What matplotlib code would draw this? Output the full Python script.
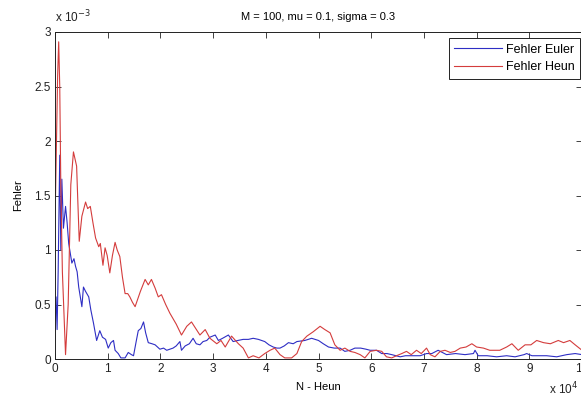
import numpy as np
import matplotlib
matplotlib.use("Agg")
import matplotlib.pyplot as plt
from matplotlib.ticker import FuncFormatter

# values: N in units of 1e4, error in units of 1e-3
heun_n = [0.01, 0.05, 0.07, 0.09, 0.11, 0.14, 0.20, 0.25, 0.30, 0.35, 0.41, 0.43,
          0.46, 0.51, 0.58, 0.62, 0.67, 0.72, 0.77, 0.83, 0.86, 0.91, 0.95, 0.99,
          1.04, 1.09, 1.14, 1.18, 1.23, 1.28, 1.33, 1.38, 1.42, 1.47, 1.52, 1.57,
          1.62, 1.71, 1.77, 1.83, 1.90, 1.96, 2.02, 2.10, 2.18, 2.30, 2.40, 2.50,
          2.59, 2.75, 2.85, 2.94, 3.07, 3.15, 3.23, 3.35, 3.48, 3.57, 3.67, 3.76,
          3.87, 3.98, 4.08, 4.17, 4.27, 4.36, 4.49, 4.59, 4.68, 4.78, 4.90, 5.03,
          5.12, 5.22, 5.31, 5.41, 5.50, 5.60, 5.69, 5.79, 5.88, 5.98, 6.10, 6.20,
          6.29, 6.39, 6.48, 6.58, 6.67, 6.76, 6.86, 6.95, 7.05, 7.12, 7.21, 7.31,
          7.40, 7.50, 7.59, 7.69, 7.80, 7.91, 8.00, 8.13, 8.25, 8.44, 8.57, 8.67,
          8.79, 8.92, 9.03, 9.14, 9.27, 9.40, 9.55, 9.65, 9.77, 9.87, 10.0]
heun_err = [1.50, 2.60, 2.91, 2.50, 1.60, 0.80, 0.04, 0.50, 1.60, 1.90, 1.77, 1.49,
            1.08, 1.31, 1.44, 1.38, 1.40, 1.25, 1.11, 1.03, 1.06, 0.86, 1.02, 0.95,
            0.79, 0.95, 1.07, 1.00, 0.94, 0.75, 0.60, 0.60, 0.57, 0.52, 0.48, 0.55,
            0.62, 0.73, 0.68, 0.73, 0.65, 0.57, 0.59, 0.50, 0.42, 0.32, 0.22, 0.30,
            0.34, 0.22, 0.27, 0.19, 0.14, 0.17, 0.11, 0.21, 0.14, 0.10, 0.01, 0.03,
            0.01, 0.05, 0.08, 0.10, 0.04, 0.01, 0.01, 0.05, 0.16, 0.21, 0.25, 0.30,
            0.27, 0.24, 0.13, 0.08, 0.10, 0.07, 0.06, 0.04, 0.01, 0.07, 0.08, 0.07,
            0.02, 0.01, 0.03, 0.05, 0.07, 0.04, 0.08, 0.05, 0.10, 0.04, 0.02, 0.07,
            0.08, 0.06, 0.07, 0.10, 0.11, 0.14, 0.11, 0.10, 0.08, 0.08, 0.11, 0.14,
            0.08, 0.13, 0.13, 0.17, 0.15, 0.14, 0.17, 0.15, 0.17, 0.13, 0.08]

euler_n = [0.00, 0.02, 0.04, 0.06, 0.09, 0.11, 0.13, 0.16, 0.20, 0.23, 0.26, 0.32,
           0.36, 0.39, 0.42, 0.45, 0.51, 0.54, 0.58, 0.64, 0.68, 0.73, 0.79, 0.85,
           0.90, 0.96, 1.01, 1.06, 1.11, 1.14, 1.20, 1.25, 1.33, 1.39, 1.45, 1.49,
           1.54, 1.58, 1.63, 1.68, 1.72, 1.77, 1.84, 1.90, 1.99, 2.06, 2.12, 2.18,
           2.24, 2.30, 2.37, 2.40, 2.47, 2.55, 2.62, 2.68, 2.75, 2.81, 2.88, 2.94,
           3.04, 3.10, 3.18, 3.29, 3.38, 3.47, 3.57, 3.67, 3.76, 3.86, 3.98, 4.06,
           4.14, 4.21, 4.27, 4.35, 4.43, 4.52, 4.59, 4.74, 4.87, 5.00, 5.09, 5.19,
           5.30, 5.41, 5.50, 5.60, 5.69, 5.80, 5.90, 5.98, 6.10, 6.20, 6.30, 6.39,
           6.55, 6.65, 6.77, 6.93, 7.05, 7.15, 7.27, 7.35, 7.43, 7.60, 7.78, 7.94,
           7.97, 8.03, 8.20, 8.38, 8.57, 8.73, 8.90, 8.95, 9.05, 9.14, 9.33, 9.52,
           9.71, 9.87, 10.0]
euler_err = [0.35, 0.57, 0.27, 0.80, 1.87, 1.00, 1.65, 1.20, 1.40, 1.25, 1.06, 0.88,
             0.92, 0.85, 0.80, 0.66, 0.48, 0.66, 0.62, 0.57, 0.45, 0.33, 0.17, 0.26,
             0.20, 0.18, 0.10, 0.15, 0.17, 0.08, 0.05, 0.01, 0.01, 0.06, 0.04, 0.03,
             0.16, 0.26, 0.28, 0.34, 0.24, 0.15, 0.14, 0.13, 0.09, 0.10, 0.08, 0.09,
             0.10, 0.12, 0.16, 0.08, 0.12, 0.14, 0.19, 0.14, 0.13, 0.16, 0.17, 0.20,
             0.22, 0.17, 0.19, 0.22, 0.16, 0.17, 0.18, 0.18, 0.19, 0.18, 0.16, 0.13,
             0.11, 0.10, 0.10, 0.12, 0.15, 0.14, 0.16, 0.17, 0.19, 0.17, 0.14, 0.11,
             0.10, 0.10, 0.07, 0.08, 0.10, 0.10, 0.09, 0.08, 0.08, 0.05, 0.05, 0.04,
             0.02, 0.03, 0.03, 0.03, 0.05, 0.05, 0.08, 0.06, 0.04, 0.05, 0.04, 0.05,
             0.08, 0.03, 0.03, 0.02, 0.03, 0.02, 0.04, 0.05, 0.03, 0.03, 0.03, 0.02,
             0.04, 0.05, 0.04]

x_ticks = [0, 1, 2, 3, 4, 5, 6, 7, 8, 9, 10]
y_ticks = [0, 0.5, 1, 1.5, 2, 2.5, 3]

plt.rcParams['font.family'] = ['Liberation Sans', 'DejaVu Sans']
plt.rcParams['font.size'] = 8

fig = plt.figure(figsize=(5.81, 4.0), dpi=100)
ax = fig.add_axes([55 / 581, 41 / 400, 527 / 581, 327 / 400])

ax.plot(np.array(euler_n) * 1e4, np.array(euler_err) * 1e-3,
        color='#2e2ec4', lw=0.8, label='Fehler Euler')
ax.plot(np.array(heun_n) * 1e4, np.array(heun_err) * 1e-3,
        color='#d43c3c', lw=0.8, label='Fehler Heun')

ax.set_xlim(0, 1e5)
ax.set_ylim(0, 3e-3)
ax.set_xticks(np.array(x_ticks) * 1e4)
ax.set_yticks(np.array(y_ticks) * 1e-3)
ax.xaxis.set_major_formatter(FuncFormatter(lambda v, p: f"{v / 1e4:g}"))
ax.yaxis.set_major_formatter(FuncFormatter(lambda v, p: f"{v / 1e-3:g}"))
ax.tick_params(direction='in', top=True, right=True, length=4, width=0.6,
               labelsize=8.5, colors='#222222', pad=3)
for s in ax.spines.values():
    s.set_linewidth(0.7)
    s.set_color('#222222')

ax.set_title('M = 100, mu = 0.1, sigma = 0.3', fontsize=8, pad=9)
ax.set_xlabel('N - Heun', fontsize=8, labelpad=5)
ax.set_ylabel('Fehler', fontsize=8, labelpad=8)

fig.text(55 / 581, 375 / 400, r'x 10$^{-3}$', fontsize=8.5, color='#222222',
         ha='left', va='bottom')
fig.text(549 / 581, 3 / 400, r'x 10$^{4}$', fontsize=8.5, color='#222222',
         ha='left', va='bottom')

leg = ax.legend(loc='upper right', bbox_to_anchor=(580 / 581, 362 / 400),
                bbox_transform=fig.transFigure, fontsize=9, fancybox=False,
                framealpha=1, edgecolor='#222222', handlelength=3.8,
                borderpad=0.45, labelspacing=0.45, handletextpad=0.3,
                borderaxespad=0)
leg.get_frame().set_linewidth(0.7)

fig.savefig('out.png', dpi=100)
